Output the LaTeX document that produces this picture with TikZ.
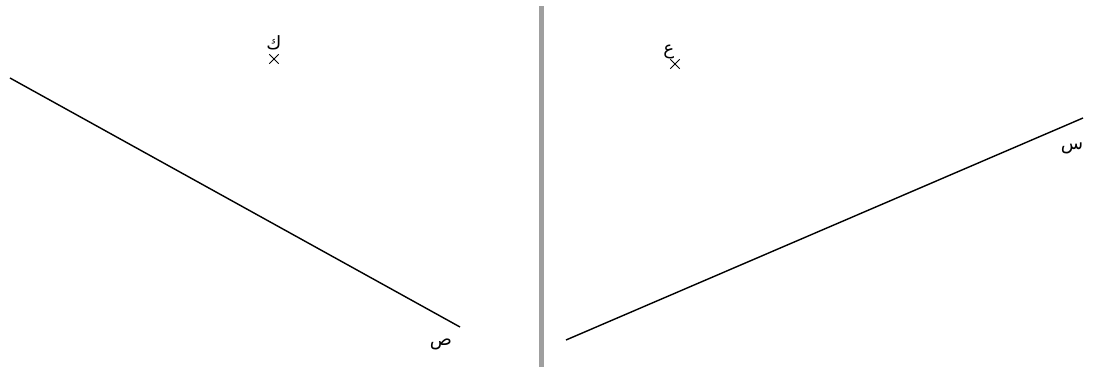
\documentclass[tikz,border=0pt]{standalone}
\usepackage{fontspec}
\usetikzlibrary{positioning, shapes.misc}
\newfontfamily\arabicfont[Script=Arabic]{DejaVu Sans}
\TeXXeTstate=1
\begin{document}
\begin{tikzpicture}[x=0.025cm, y=-0.025cm, font=\arabicfont\fontsize{13}{15}\selectfont]
  \useasboundingbox (0,0) rectangle (1096,367);
  \tikzset{pt/.style={inner sep=0pt, minimum size=6pt, cross out, draw, line width=0.7pt}, lbl/.style={inner sep=0pt}}
  % divider
  \fill[gray!75] (539,6) rectangle (544,367);
  % left mirror line
  \coordinate (a1) at (10,78);
  \coordinate (a2) at (460,327);
  \draw[line width=1pt] (a1) -- (a2);
  \node[lbl] (sad) at (441,344) {\beginR ص\endR};
  \node[pt] (k) at (274,59) {};
  \node[lbl, above=3pt of k] (kaf) {\beginR ك\endR};
  % right mirror line
  \coordinate (b1) at (566,340);
  \coordinate (b2) at (1083,118);
  \draw[line width=1pt] (b1) -- (b2);
  \node[lbl] (sin) at (1072,148) {\beginR س\endR};
  \node[pt] (e) at (675,64) {};
  \node[lbl, above left=0pt and -3pt of e] (ain) {\beginR ع\endR};
\end{tikzpicture}
\end{document}
